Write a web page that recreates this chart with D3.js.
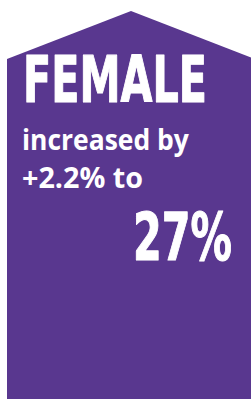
<!DOCTYPE html>
<meta charset="utf-8">
<style>
body { margin: 0; background: #fff; }
.big { font-family: "DejaVu Sans"; font-weight: bold; fill: #fff; stroke: #fff; stroke-width: 1.2px; stroke-linejoin: round; }
.small { font-family: "Open Sans"; font-weight: 700; fill: #fff; }
</style>
<svg width="251" height="399"></svg>
<script src="https://cdn.jsdelivr.net/npm/d3@7"></script>
<script>
var category = ["FEMALE"];
var change = [2.2];
var share = [27];

var svg = d3.select("svg");

// house shaped panel
var x = d3.scaleLinear().domain([0, 1]).range([7, 255]);
var y = d3.scaleLinear().domain([0, 1]).range([11, 399]);
var shape = [[0, 0.124], [0.5, 0], [1, 0.124], [1, 1], [0, 1]];
svg.append("path")
  .attr("d", d3.line().x(function(d) { return x(d[0]); }).y(function(d) { return y(d[1]); })(shape) + "Z")
  .attr("fill", "#59378f");

// squeeze a label horizontally so it spans the wanted width
function label(cls, px, py, size, width, txt) {
  var g = svg.append("g");
  var t = g.append("text").attr("class", cls).attr("font-size", size).text(txt);
  var w = t.node().getComputedTextLength();
  g.attr("transform", "translate(" + px + "," + py + ") scale(" + (width / w) + ",1)");
}

label("big", 23, 102, 64, 184, category[0]);
label("small", 22, 150, 28, 167, "increased by");
label("small", 22, 188, 28, 121, "+" + change[0] + "% to");
label("big", 133, 260, 66, 99, share[0] + "%");
</script>
